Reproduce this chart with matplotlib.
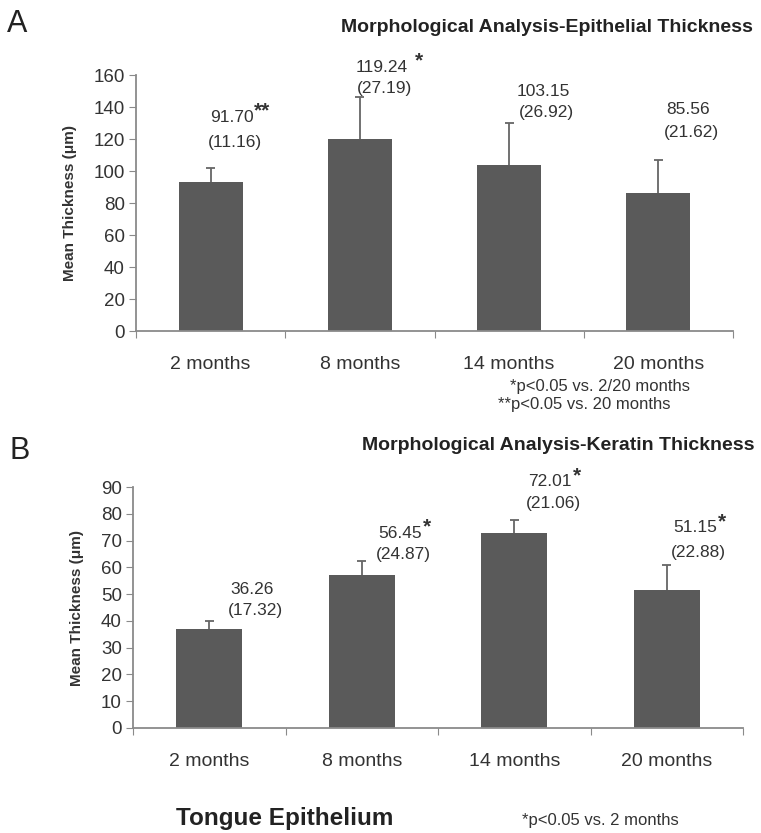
import matplotlib
matplotlib.use("Agg")
from matplotlib import pyplot as plt

# data
months = ['2 months', '8 months', '14 months', '20 months']

epi_bar = [93, 120, 104, 86]
epi_err_top = [102, 146, 130, 107]
epi_mean = ['91.70', '119.24', '103.15', '85.56']
epi_sd = ['(11.16)', '(27.19)', '(26.92)', '(21.62)']
epi_star = ['**', '*', '', '']

ker_bar = [37, 57, 73, 51.5]
ker_err_top = [40, 62.5, 77.5, 61]
ker_mean = ['36.26', '56.45', '72.01', '51.15']
ker_sd = ['(17.32)', '(24.87)', '(21.06)', '(22.88)']
ker_star = ['', '*', '*', '*']

plt.rcParams['font.family'] = ['Liberation Sans', 'DejaVu Sans']
W, H = 761, 833
fig = plt.figure(figsize=(W/100, H/100), dpi=100)

bar_col = '#5a5a5a'
axis_col = '#8a8a8a'
txt_col = '#333333'

def px(x, y):
    return x / W, 1 - y / H

def panel(rect, bars, tops, ymax, step):
    ax = fig.add_axes(rect)
    xs = list(range(len(bars)))
    ax.bar(xs, bars, width=0.43, color=bar_col, zorder=2)
    # upper error bars only
    ax.vlines(xs, bars, tops, color='#666666', lw=1.3, zorder=1)
    ax.hlines(tops, [x - 0.03 for x in xs], [x + 0.03 for x in xs], color='#666666', lw=1.3, zorder=1)
    ax.set_xlim(-0.5, len(bars) - 0.5)
    ax.set_ylim(0, ymax)
    ax.set_yticks(range(0, ymax + 1, step))
    ax.set_xticks([i - 0.5 for i in range(len(bars) + 1)])
    ax.set_xticklabels([])
    ax.set_xticks(xs, minor=True)
    ax.set_xticklabels(months, minor=True)
    ax.tick_params(axis='x', which='minor', length=0, pad=18, labelsize=14, labelcolor=txt_col)
    ax.tick_params(axis='x', which='major', length=5, direction='out', color=axis_col)
    ax.tick_params(axis='y', length=5, color=axis_col, labelsize=13.5, labelcolor=txt_col, pad=3)
    for s in ['top', 'right']:
        ax.spines[s].set_visible(False)
    for s in ['left', 'bottom']:
        ax.spines[s].set_color(axis_col)
        ax.spines[s].set_linewidth(1.3)
    ax.set_ylabel('Mean Thickness (\u03bcm)', fontsize=11, fontweight='bold', color=txt_col, labelpad=12)
    return ax

# panel A
axA = panel([136/W, 1 - 331/H, (733-136)/W, (331-75)/H], epi_bar, epi_err_top, 160, 20)
# panel B
axB = panel([133/W, 1 - 728/H, (743-133)/W, (728-487)/H], ker_bar, ker_err_top, 90, 10)

def label(xc, y_mean, y_sd, mean, sd, star, gap=1):
    fig.text(*px(xc, y_mean), mean, ha='center', va='center', fontsize=12.5, color=txt_col)
    if star:
        fig.text(*px(xc + len(mean) * 4.4 + gap, y_mean - 6), star, ha='left', va='center',
                 fontsize=15, fontweight='bold', color=txt_col)
    fig.text(*px(xc + 3, y_sd), sd, ha='center', va='center', fontsize=12.5, color=txt_col)

epi_pos = [(232, 117, 142), (382, 67, 88), (543, 92, 113), (688, 110, 132)]
for (xc, ym, ys), m, s, st, g in zip(epi_pos, epi_mean, epi_sd, epi_star, [0, 7, 0, 0]):
    label(xc, ym, ys, m, s, st, g)

ker_pos = [(252, 590, 611), (400, 533, 555), (550, 482, 504), (695, 528, 552)]
for (xc, ym, ys), m, s, st in zip(ker_pos, ker_mean, ker_sd, ker_star):
    label(xc, ym, ys, m, s, st)

# panel letters and titles
fig.text(*px(7, 24), 'A', fontsize=22, color='#222222', va='center', ha='left')
fig.text(*px(9, 451), 'B', fontsize=22, color='#222222', va='center', ha='left')
fig.text(*px(753, 27), 'Morphological Analysis-Epithelial Thickness', ha='right', va='center',
         fontsize=14, fontweight='bold', color='#222222')
fig.text(*px(755, 445), 'Morphological Analysis-Keratin Thickness', ha='right', va='center',
         fontsize=14, fontweight='bold', color='#222222')

# footnotes
fig.text(*px(510, 387), '*p<0.05 vs. 2/20 months', ha='left', va='center', fontsize=12, color=txt_col)
fig.text(*px(498, 405), '**p<0.05 vs. 20 months', ha='left', va='center', fontsize=12, color=txt_col)
fig.text(*px(522, 820), '*p<0.05 vs. 2 months', ha='left', va='center', fontsize=12, color=txt_col)
fig.text(*px(285, 818), 'Tongue Epithelium', ha='center', va='center', fontsize=17.5,
         fontweight='bold', color='#222222')

plt.savefig('out.png', dpi=100)
